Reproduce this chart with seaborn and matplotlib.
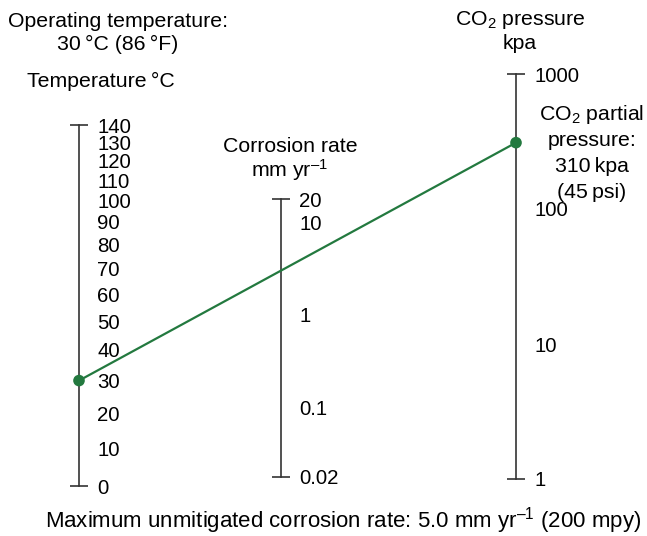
import numpy as np
import matplotlib
matplotlib.use("Agg")
import matplotlib.pyplot as plt
import matplotlib.transforms as mtransforms
from matplotlib.patches import ConnectionPatch
import seaborn as sns

# Scale values
temp_ticks = [0, 10, 20, 30, 40, 50, 60, 70, 80, 90, 100, 110, 120, 130, 140]
rate_ticks = [0.02, 0.1, 1, 10, 20]
rate_labels = ["0.02", "0.1", "1", "10", "20"]
pressure_ticks = [1, 10, 100, 1000]
pressure_labels = ["1", "10", "100", "1000"]

# Operating point
operating_temp = 30      # °C
co2_pressure = 310       # kPa

sns.set_theme(style="white")
plt.rcParams["font.family"] = ["Liberation Sans", "DejaVu Sans"]
plt.rcParams["mathtext.fontset"] = "custom"
plt.rcParams["mathtext.rm"] = "Liberation Sans"
plt.rcParams["mathtext.it"] = "Liberation Sans:italic"
plt.rcParams["mathtext.bf"] = "Liberation Sans:bold"

W, H = 647, 536
fig = plt.figure(figsize=(W / 100, H / 100), dpi=100)
fig.patch.set_facecolor("white")

AXIS_COLOR = "#333333"
GREEN = "#23793f"
FS_TEXT = 15.3
FS_TICK = 14.7


def px(x, y):
    return x / W, 1 - y / H


def add_scale(x_px, top_px, bottom_px):
    w = 0.01
    ax = fig.add_axes([x_px / W - w, 1 - bottom_px / H, w, (bottom_px - top_px) / H])
    ax.patch.set_visible(False)
    for side in ["left", "top", "bottom"]:
        ax.spines[side].set_visible(False)
    ax.spines["right"].set_color(AXIS_COLOR)
    ax.spines["right"].set_linewidth(1.2)
    ax.yaxis.tick_right()
    return ax


def style_ticks(ax, ends, end_labels, inner, inner_labels, lift_pt=0.0):
    ax.set_yticks(ends)
    ax.set_yticklabels(end_labels)
    ax.set_yticks(inner, minor=True)
    ax.set_yticklabels(inner_labels, minor=True)
    ax.tick_params(axis="y", which="major", direction="inout", length=13, width=1.2,
                   color=AXIS_COLOR, pad=6.5, labelsize=FS_TICK, labelcolor="black",
                   right=True, labelright=True, left=False, labelleft=False)
    ax.tick_params(axis="y", which="minor", length=0, pad=13, labelsize=FS_TICK,
                   labelcolor="black", right=True, labelright=True, left=False,
                   labelleft=False)
    ax.set_xticks([])
    # inner labels may sit slightly above their graduation
    if lift_pt:
        lift = mtransforms.ScaledTranslation(0, lift_pt / 72, fig.dpi_scale_trans)
        for tick in ax.yaxis.get_minor_ticks():
            tick.label2.set_transform(tick.label2.get_transform() + lift)


# Temperature scale: linear in 1/T (Kelvin)
ax_t = add_scale(79, 125, 486)
ax_t.set_yscale("function", functions=(lambda t: -1.0 / (np.asarray(t) + 273.15),
                                       lambda u: -1.0 / np.asarray(u) - 273.15))
ax_t.set_ylim(temp_ticks[0], temp_ticks[-1])
style_ticks(ax_t, [temp_ticks[0], temp_ticks[-1]],
            [str(temp_ticks[0]), str(temp_ticks[-1])],
            temp_ticks[1:-1], [str(t) for t in temp_ticks[1:-1]])

# Corrosion rate scale (log)
ax_r = add_scale(281, 199, 477)
ax_r.set_yscale("log")
ax_r.set_ylim(rate_ticks[0], rate_ticks[-1])
style_ticks(ax_r, [rate_ticks[0], rate_ticks[-1]], [rate_labels[0], rate_labels[-1]],
            rate_ticks[1:-1], rate_labels[1:-1], lift_pt=3.5)

# CO2 pressure scale (log)
ax_p = add_scale(516, 74, 479)
ax_p.set_yscale("log")
ax_p.set_ylim(pressure_ticks[0], pressure_ticks[-1])
style_ticks(ax_p, [pressure_ticks[0], pressure_ticks[-1]],
            [pressure_labels[0], pressure_labels[-1]],
            pressure_ticks[1:-1], pressure_labels[1:-1])

# Operating line joining temperature and CO2 pressure
line = ConnectionPatch(xyA=(1, operating_temp), coordsA=ax_t.transData,
                       xyB=(1, co2_pressure), coordsB=ax_p.transData,
                       color=GREEN, linewidth=1.6, zorder=4)
fig.add_artist(line)

sns.scatterplot(x=[1], y=[operating_temp], ax=ax_t, color=GREEN, s=70,
                edgecolor="none", clip_on=False, zorder=6)
sns.scatterplot(x=[1], y=[co2_pressure], ax=ax_p, color=GREEN, s=70,
                edgecolor="none", clip_on=False, zorder=6)
for ax in (ax_t, ax_r, ax_p):
    ax.set_xlim(0, 1)
    ax.set_xlabel("")
    ax.set_ylabel("")

ts = "\u2009"
texts = [
    (118, 27, "Operating temperature:", FS_TEXT),
    (118, 50, f"30{ts}°C (86{ts}°F)", FS_TEXT),
    (101, 87, f"Temperature{ts}°C", FS_TEXT),
    (290, 152, "Corrosion rate", FS_TEXT),
    (289, 177, r"mm yr$^{\mathrm{–1}}$", FS_TEXT),
    (520, 25, r"CO$_2$ pressure", FS_TEXT),
    (520, 49, "kpa", FS_TEXT),
    (592, 120, r"CO$_2$ partial", FS_TEXT),
    (592, 146, "pressure:", FS_TEXT),
    (592, 172, f"310{ts}kpa", FS_TEXT),
    (592, 198, f"(45{ts}psi)", FS_TEXT),
    (343, 527, r"Maximum unmitigated corrosion rate: 5.0 mm yr$^{\mathrm{–1}}$ (200 mpy)", 16.0),
]
for x, y, s, fs in texts:
    fig.text(*px(x, y), s, ha="center", va="baseline", fontsize=fs, color="black")

fig.savefig("out.png", dpi=100, facecolor="white")
